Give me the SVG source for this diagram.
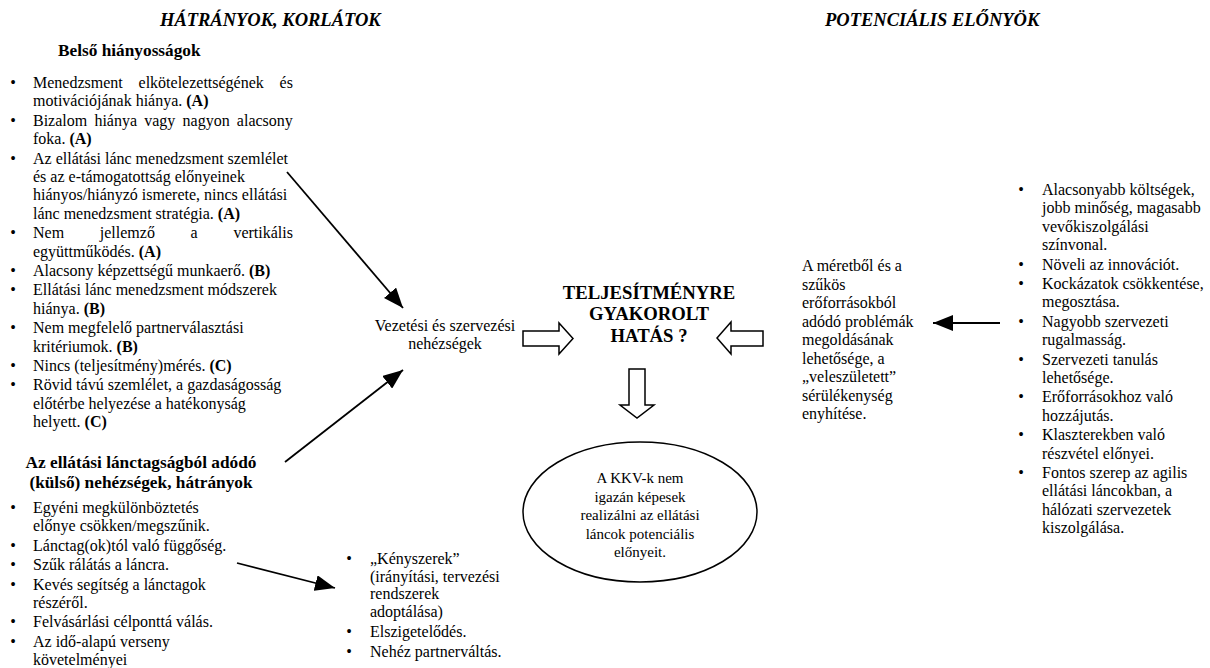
<svg xmlns="http://www.w3.org/2000/svg" width="1210" height="668" viewBox="0 0 1210 668">
<defs>
<style>
text{font-family:"Liberation Serif","Times New Roman",serif;font-size:16px;fill:#000}
.b{font-weight:bold}
.h{font-weight:bold;font-style:italic;font-size:18.5px}
.sh{font-weight:bold;font-size:17.3px}
.ttl{font-weight:bold;font-size:18.7px;text-anchor:middle}
.el{font-size:15px;text-anchor:middle}
.c{text-anchor:middle}
.bu{text-anchor:middle}
.ln{stroke:#000;stroke-width:1.8;fill:none;marker-end:url(#ah)}
.blk{fill:#fff;stroke:#000;stroke-width:1.5}
</style>
<marker id="ah" markerWidth="20" markerHeight="16" refX="20" refY="8" orient="auto" markerUnits="userSpaceOnUse"><path d="M0,0 L20,8 L0,16 z" fill="#000"/></marker>
</defs>
<rect width="1210" height="668" fill="#fff"/>

<g id="header-left"><text class="h" x="160" y="26">HÁTRÁNYOK, KORLÁTOK</text></g>
<g id="header-right"><text class="h" x="825" y="26">POTENCIÁLIS ELŐNYÖK</text></g>

<g id="internal-deficiencies">
<text class="sh" x="58" y="56">Belső hiányosságok</text>
<text class="bu" x="13" y="88">•</text>
<text x="33" y="88" word-spacing="11.8">Menedzsment elkötelezettségének és</text>
<text x="33" y="106.4">motivációjának hiánya. <tspan class="b">(A)</tspan></text>
<text class="bu" x="13" y="125.8">•</text>
<text x="33" y="125.8" word-spacing="3.2">Bizalom hiánya vagy nagyon alacsony</text>
<text x="33" y="144.2">foka. <tspan class="b">(A)</tspan></text>
<text class="bu" x="13" y="163.6">•</text>
<text x="33" y="163.6">Az ellátási lánc menedzsment szemlélet</text>
<text x="33" y="182">és az e-támogatottság előnyeinek</text>
<text x="33" y="200.4">hiányos/hiányzó ismerete, nincs ellátási</text>
<text x="33" y="218.8">lánc menedzsment stratégia. <tspan class="b">(A)</tspan></text>
<text class="bu" x="13" y="238.2">•</text>
<text x="33" y="238.2" word-spacing="31.7">Nem jellemző a vertikális</text>
<text x="33" y="256.6">együttműködés. <tspan class="b">(A)</tspan></text>
<text class="bu" x="13" y="276">•</text>
<text x="33" y="276">Alacsony képzettségű munkaerő. <tspan class="b">(B)</tspan></text>
<text class="bu" x="13" y="295.4">•</text>
<text x="33" y="295.4">Ellátási lánc menedzsment módszerek</text>
<text x="33" y="313.8">hiánya. <tspan class="b">(B)</tspan></text>
<text class="bu" x="13" y="333.2">•</text>
<text x="33" y="333.2">Nem megfelelő partnerválasztási</text>
<text x="33" y="351.6">kritériumok. <tspan class="b">(B)</tspan></text>
<text class="bu" x="13" y="371">•</text>
<text x="33" y="371">Nincs (teljesítmény)mérés. <tspan class="b">(C)</tspan></text>
<text class="bu" x="13" y="390.4">•</text>
<text x="33" y="390.4">Rövid távú szemlélet, a gazdaságosság</text>
<text x="33" y="408.8">előtérbe helyezése a hatékonyság</text>
<text x="33" y="427.2">helyett. <tspan class="b">(C)</tspan></text>
</g>

<g id="external-difficulties">
<text class="sh c" x="141" y="468">Az ellátási lánctagságból adódó</text>
<text class="sh c" x="141" y="488">(külső) nehézségek, hátrányok</text>
<text class="bu" x="13" y="513">•</text>
<text x="33" y="513">Egyéni megkülönböztetés</text>
<text x="33" y="531.4">előnye csökken/megszűnik.</text>
<text class="bu" x="13" y="550.8">•</text>
<text x="33" y="550.8">Lánctag(ok)tól való függőség.</text>
<text class="bu" x="13" y="570.2">•</text>
<text x="33" y="570.2">Szűk rálátás a láncra.</text>
<text class="bu" x="13" y="589.6">•</text>
<text x="33" y="589.6">Kevés segítség a lánctagok</text>
<text x="33" y="608">részéről.</text>
<text class="bu" x="13" y="627.4">•</text>
<text x="33" y="627.4">Felvásárlási célponttá válás.</text>
<text class="bu" x="13" y="646.8">•</text>
<text x="33" y="646.8">Az idő-alapú verseny</text>
<text x="33" y="665.2">követelményei</text>
</g>

<g id="constraints">
<text class="bu" x="349" y="564">•</text>
<text x="370" y="564">„Kényszerek”</text>
<text x="370" y="581.5">(irányítási, tervezési</text>
<text x="370" y="599">rendszerek</text>
<text x="370" y="616.5">adoptálása)</text>
<text class="bu" x="349" y="636.5">•</text>
<text x="370" y="636.5">Elszigetelődés.</text>
<text class="bu" x="349" y="656.5">•</text>
<text x="370" y="656.5">Nehéz partnerváltás.</text>
</g>

<g id="management-difficulties">
<text class="c" x="445" y="331">Vezetési és szervezési</text>
<text class="c" x="445" y="349">nehézségek</text>
</g>

<g id="performance-impact">
<text class="ttl" x="649" y="298.5">TELJESÍTMÉNYRE</text>
<text class="ttl" x="649" y="320">GYAKOROLT</text>
<text class="ttl" x="649" y="342">HATÁS ?</text>
</g>

<g id="sme-outcome">
<ellipse cx="640" cy="512" rx="117" ry="70" fill="#fff" stroke="#000" stroke-width="1.5"/>
<text class="el" x="640" y="483">A KKV-k nem</text>
<text class="el" x="640" y="501.6">igazán képesek</text>
<text class="el" x="640" y="520.2">realizálni az ellátási</text>
<text class="el" x="640" y="538.8">láncok potenciális</text>
<text class="el" x="640" y="557.4">előnyeit.</text>
</g>

<g id="size-problems">
<text x="802" y="271">A méretből és a</text>
<text x="802" y="289.5">szűkös</text>
<text x="802" y="308">erőforrásokból</text>
<text x="802" y="326.5">adódó problémák</text>
<text x="802" y="345">megoldásának</text>
<text x="802" y="363.5">lehetősége, a</text>
<text x="802" y="382">„veleszületett”</text>
<text x="802" y="400.5">sérülékenység</text>
<text x="802" y="419">enyhítése.</text>
</g>

<g id="benefits">
<text class="bu" x="1021" y="195">•</text>
<text x="1042" y="195">Alacsonyabb költségek,</text>
<text x="1042" y="213.4">jobb minőség, magasabb</text>
<text x="1042" y="231.8">vevőkiszolgálási</text>
<text x="1042" y="250.2">színvonal.</text>
<text class="bu" x="1021" y="269.6">•</text>
<text x="1042" y="269.6">Növeli az innovációt.</text>
<text class="bu" x="1021" y="289">•</text>
<text x="1042" y="289">Kockázatok csökkentése,</text>
<text x="1042" y="307.4">megosztása.</text>
<text class="bu" x="1021" y="326.8">•</text>
<text x="1042" y="326.8">Nagyobb szervezeti</text>
<text x="1042" y="345.2">rugalmasság.</text>
<text class="bu" x="1021" y="364.6">•</text>
<text x="1042" y="364.6">Szervezeti tanulás</text>
<text x="1042" y="383">lehetősége.</text>
<text class="bu" x="1021" y="402.4">•</text>
<text x="1042" y="402.4">Erőforrásokhoz való</text>
<text x="1042" y="420.8">hozzájutás.</text>
<text class="bu" x="1021" y="440.2">•</text>
<text x="1042" y="440.2">Klaszterekben való</text>
<text x="1042" y="458.6">részvétel előnyei.</text>
<text class="bu" x="1021" y="478">•</text>
<text x="1042" y="478">Fontos szerep az agilis</text>
<text x="1042" y="496.4">ellátási láncokban, a</text>
<text x="1042" y="514.8">hálózati szervezetek</text>
<text x="1042" y="533.2">kiszolgálása.</text>
</g>

<g id="connectors">
<line class="ln" x1="287" y1="172" x2="403" y2="308"/>
<line class="ln" x1="285" y1="462" x2="403" y2="370"/>
<line class="ln" x1="237" y1="563" x2="335" y2="588"/>
<line class="ln" x1="1000" y1="323" x2="933" y2="323"/>
<polygon class="blk" points="523,331 559,331 559,323 573,338.5 559,354 559,346 523,346"/>
<polygon class="blk" points="763,331 731,331 731,322 717,338 731,354 731,346 763,346"/>
<polygon class="blk" points="629,369 645,369 645,405 654,405 637,418 620,405 629,405"/>
</g>
</svg>
